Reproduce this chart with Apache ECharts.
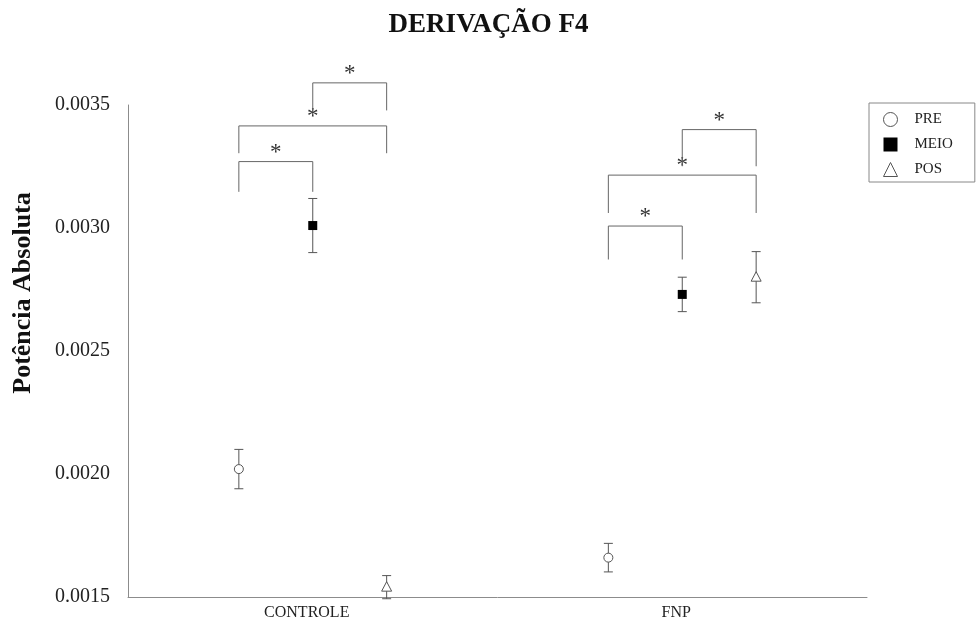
<!DOCTYPE html>
<html>
<head>
<meta charset="utf-8">
<script src="https://cdn.jsdelivr.net/npm/echarts@6/dist/echarts.min.js"></script>
<style>html,body{margin:0;padding:0;background:#fff;}#c{width:977px;height:624px;}</style>
</head>
<body>
<div id="c"></div>
<script>
// ---- data ----
const categories = ['CONTROLE', 'FNP'];
const seriesNames = ['PRE', 'MEIO', 'POS'];
const preMean = [0.00202, 0.00166];
const preErr = [0.00008, 0.000058];
const meioMean = [0.00301, 0.00273];
const meioErr = [0.00011, 0.00007];
const posMean = [0.00154, 0.00280];
const posErr = [0.000047, 0.000104];
const yTicks = [0.0015, 0.0020, 0.0025, 0.0030, 0.0035];
// significance brackets: group, from series, to series, bar level, leg bottom
const sigGroup = [0, 0, 0, 1, 1, 1];
const sigFrom = [0, 0, 1, 0, 0, 1];
const sigTo = [1, 2, 2, 1, 2, 2];
const sigTop = [0.00327, 0.003415, 0.00359, 0.003008, 0.003215, 0.0034];
const sigLeg = [0.003147, 0.003304, 0.003478, 0.002872, 0.003061, 0.003251];
const sigLabel = ['*', '*', '*', '*', '*', '*'];

// ---- layout / style ----
const offsets = [-0.2, 0, 0.2];
const FONT = '"Liberation Serif", "DejaVu Serif", serif';
const GRAY = '#555';

function markerShapes(kind, x, y) {
  if (kind === 0) return { type: 'circle', shape: { cx: x, cy: y, r: 4.5 }, style: { fill: '#fff', stroke: GRAY, lineWidth: 1 } };
  if (kind === 1) return { type: 'rect', shape: { x: x - 4.5, y: y - 4.5, width: 9, height: 9 }, style: { fill: '#000' } };
  return { type: 'polygon', shape: { points: [[x, y - 5.5], [x - 5, y + 4], [x + 5, y + 4]] }, style: { fill: '#fff', stroke: GRAY, lineWidth: 1 } };
}

function makeSeries(idx, means, errs) {
  return {
    name: seriesNames[idx],
    type: 'custom',
    encode: { x: 0, y: 1 },
    data: categories.map((c, i) => [i, means[i], errs[i]]),
    renderItem: function (params, api) {
      const ci = api.value(0), m = api.value(1), e = api.value(2);
      const band = api.size([1, 0])[0];
      const c = api.coord([ci, m]);
      const x = c[0] + offsets[idx] * band;
      const yT = api.coord([ci, m + e])[1];
      const yB = api.coord([ci, m - e])[1];
      const ls = { stroke: GRAY, lineWidth: 1 };
      return {
        type: 'group',
        children: [
          { type: 'line', shape: { x1: x, y1: yT, x2: x, y2: yB }, style: ls },
          { type: 'line', shape: { x1: x - 4.5, y1: yT, x2: x + 4.5, y2: yT }, style: ls },
          { type: 'line', shape: { x1: x - 4.5, y1: yB, x2: x + 4.5, y2: yB }, style: ls },
          markerShapes(idx, x, c[1])
        ]
      };
    }
  };
}

const bracketSeries = {
  name: 'sig',
  type: 'custom',
  silent: true,
  data: sigGroup.map((g, i) => [g, sigTop[i], sigFrom[i], sigTo[i], sigLeg[i], i]),
  encode: { x: 0, y: 1 },
  renderItem: function (params, api) {
    const g = api.value(0), top = api.value(1), f = api.value(2), t = api.value(3), leg = api.value(4), k = api.value(5);
    const band = api.size([1, 0])[0];
    const c = api.coord([g, top]);
    const xL = c[0] + offsets[f] * band;
    const xR = c[0] + offsets[t] * band;
    const yL = api.coord([g, leg])[1];
    return {
      type: 'group',
      children: [
        { type: 'polyline', shape: { points: [[xL, yL], [xL, c[1]], [xR, c[1]], [xR, yL]] }, style: { stroke: '#666', lineWidth: 1, fill: null } },
        { type: 'text', style: { text: sigLabel[k], x: (xL + xR) / 2, y: c[1] - 9, align: 'center', verticalAlign: 'middle', fontSize: 23, fontFamily: FONT, fill: '#333' } }
      ]
    };
  }
};

const chart = echarts.init(document.getElementById('c'));
chart.setOption({
  animation: false,
  backgroundColor: '#fff',
  title: {
    text: 'DERIVAÇÃO F4',
    left: 'center',
    top: 7,
    textStyle: { fontFamily: FONT, fontSize: 27, fontWeight: 'bold', color: '#111' }
  },
  legend: {
    orient: 'vertical',
    left: 869,
    top: 103,
    padding: [9, 22, 5, 14],
    itemGap: 10,
    itemWidth: 14,
    itemHeight: 14,
    borderColor: '#888',
    borderWidth: 1,
    textStyle: { fontFamily: FONT, fontSize: 15, color: '#222', padding: [0, 0, 0, 12] },
    data: [
      { name: 'PRE', icon: 'circle', itemStyle: { color: '#fff', borderColor: GRAY, borderWidth: 1 } },
      { name: 'MEIO', icon: 'rect', itemStyle: { color: '#000', borderWidth: 0 } },
      { name: 'POS', icon: 'triangle', itemStyle: { color: '#fff', borderColor: GRAY, borderWidth: 1 } }
    ]
  },
  grid: { left: 128, right: 110, top: 105, bottom: 27 },
  xAxis: {
    type: 'category',
    data: categories,
    boundaryGap: true,
    axisLine: { show: true, lineStyle: { color: '#8c8c8c', width: 1 } },
    axisTick: { show: false },
    axisLabel: { fontFamily: FONT, fontSize: 16, color: '#222', margin: 8, padding: [0, 12, 0, 0] },
    splitLine: { show: false }
  },
  yAxis: {
    type: 'value',
    min: yTicks[0],
    max: yTicks[yTicks.length - 1],
    interval: 0.0005,
    name: 'Potência Absoluta',
    nameLocation: 'middle',
    nameRotate: 90,
    nameGap: 92,
    nameTextStyle: { fontFamily: FONT, fontSize: 26, fontWeight: 'bold', color: '#111', padding: [0, 0, 0, 116] },
    axisLine: { show: true, lineStyle: { color: '#8c8c8c', width: 1 } },
    axisTick: { show: false },
    splitLine: { show: false },
    axisLabel: { fontFamily: FONT, fontSize: 20, color: '#222', margin: 18, formatter: v => v.toFixed(4) }
  },
  series: [
    makeSeries(0, preMean, preErr),
    makeSeries(1, meioMean, meioErr),
    makeSeries(2, posMean, posErr),
    bracketSeries
  ]
});
</script>
</body>
</html>
